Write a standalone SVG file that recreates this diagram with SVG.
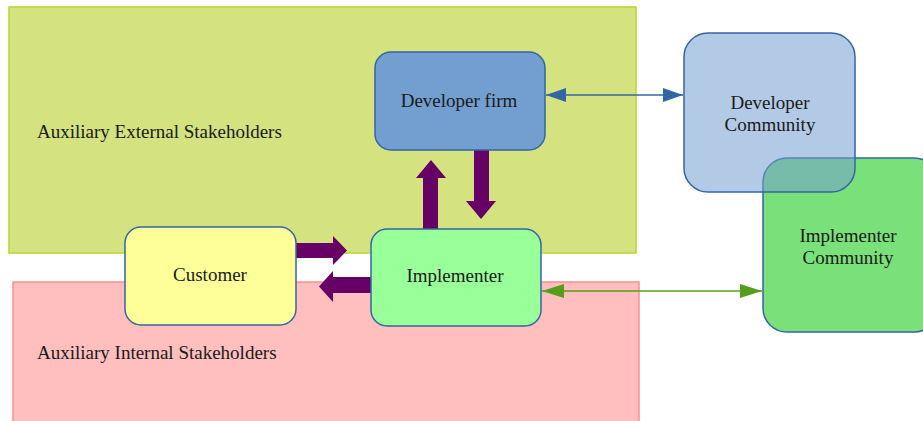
<svg xmlns="http://www.w3.org/2000/svg" width="923" height="421" viewBox="0 0 923 421">
<style>
text{font-family:"Liberation Serif","Times New Roman",serif;font-size:19px;fill:#1a1a1a}
.c{text-anchor:middle}
.node{stroke-width:1.5}
.blk{fill:#660066}
</style>
<defs>
<marker id="ab" viewBox="0 0 20 14" refX="20" refY="7" markerWidth="20" markerHeight="14" markerUnits="userSpaceOnUse" orient="auto-start-reverse"><path d="M0,0L20,7L0,14z" fill="#3465a4"/></marker>
<marker id="ag" viewBox="0 0 22 14" refX="22" refY="7" markerWidth="22" markerHeight="14" markerUnits="userSpaceOnUse" orient="auto-start-reverse"><path d="M0,0L22,7L0,14z" fill="#579d1c"/></marker>
</defs>
<rect width="923" height="421" fill="#fff"/>
<g id="external">
<rect x="9" y="7" width="627" height="246" fill="#d4e27f" stroke="#b8d430" stroke-width="1.5"/>
<text x="37" y="138">Auxiliary External Stakeholders</text>
</g>
<g id="internal">
<rect x="13" y="282" width="626" height="145" fill="#ffbfbf" stroke="#ff8e8e" stroke-width="1.5"/>
<text x="37" y="359">Auxiliary Internal Stakeholders</text>
</g>
<g id="connectors">
<line x1="546" y1="95" x2="683" y2="95" stroke="#3465a4" stroke-width="1.5" marker-start="url(#ab)" marker-end="url(#ab)"/>
<line x1="542" y1="291" x2="762" y2="291" stroke="#579d1c" stroke-width="1.5" marker-start="url(#ag)" marker-end="url(#ag)"/>
<path class="blk" d="M423,229V178H416L431,160L446,178H438V229Z"/>
<path class="blk" d="M474,150H489V201H496L481,219L466,201H474Z"/>
<path class="blk" d="M296,243H333V236L347,250.5L333,265V258H296Z"/>
<path class="blk" d="M371,277H333V271L319,286.5L333,302V293H371Z"/>
</g>
<g id="developer-firm">
<rect class="node" x="375" y="52" width="170" height="98" rx="16" fill="#729fcf" stroke="#3465a4"/>
<text class="c" x="459" y="107">Developer firm</text>
</g>
<g id="customer">
<rect class="node" x="125" y="227" width="171" height="98" rx="16" fill="#ffff99" stroke="#3465a4"/>
<text class="c" x="210" y="281">Customer</text>
</g>
<g id="implementer">
<rect class="node" x="371" y="229" width="170" height="97" rx="16" fill="#99ff99" stroke="#3465a4"/>
<text class="c" x="455" y="282">Implementer</text>
</g>
<g id="implementer-community">
<rect class="node" x="763" y="158" width="175" height="174" rx="24" fill="#7ae07a" stroke="#3465a4"/>
<text class="c" x="848" y="242">Implementer</text>
<text class="c" x="848" y="264">Community</text>
</g>
<g id="developer-community">
<rect class="node" x="684" y="33" width="171" height="159" rx="24" fill="#729fcf" fill-opacity="0.55" stroke="#3465a4"/>
<text class="c" x="770" y="109">Developer</text>
<text class="c" x="770" y="131">Community</text>
</g>
</svg>
